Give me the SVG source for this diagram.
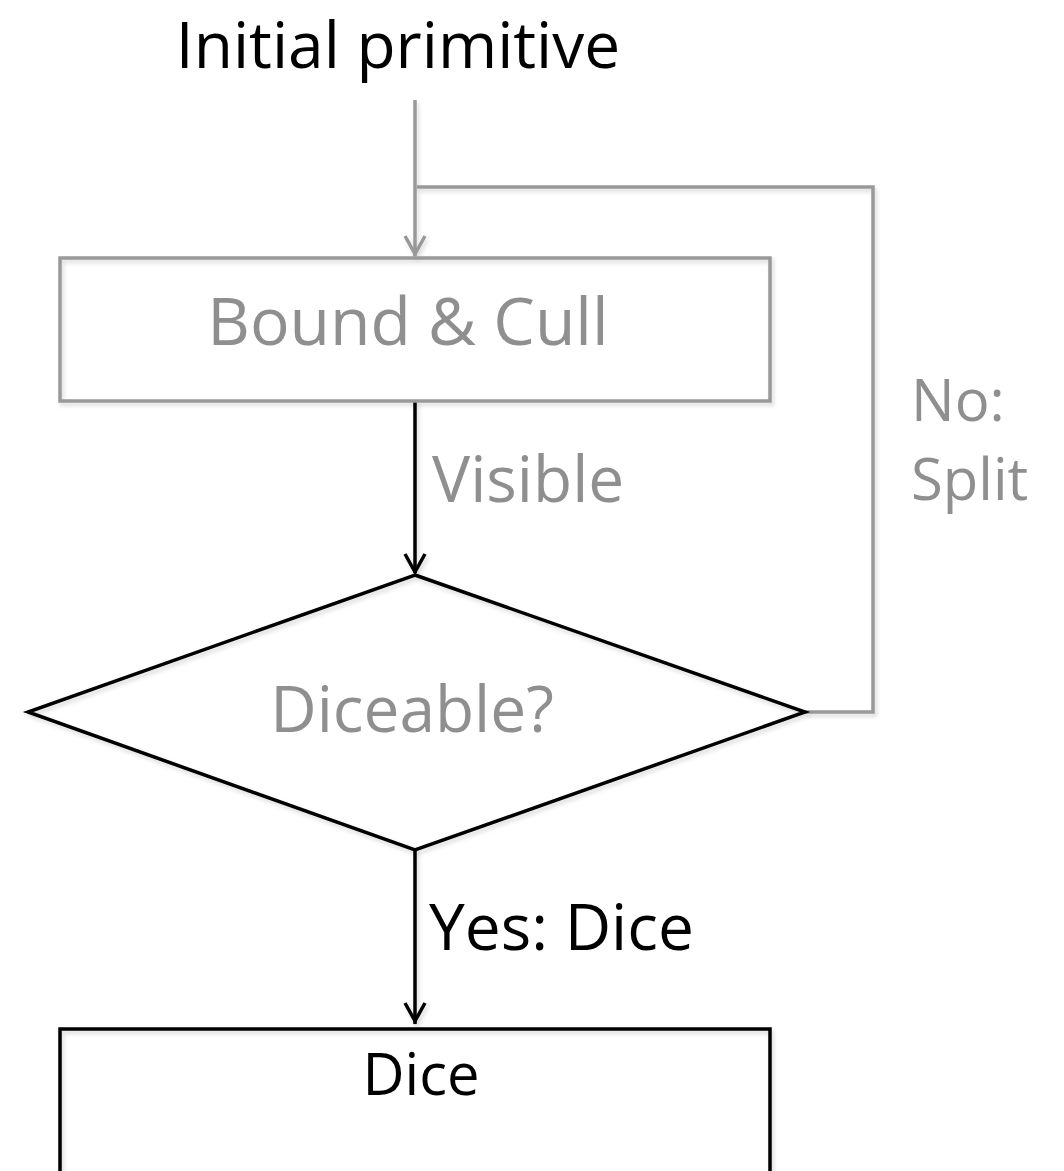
<svg xmlns="http://www.w3.org/2000/svg" width="1064" height="1171" viewBox="0 0 1064 1171">
<style>
  .t { font-family: "Open Sans", "Liberation Sans", sans-serif; }
  .gray { fill: #8f8f8f; }
  .blk { fill: #000; }
  .gl { stroke: #999; stroke-width: 3.5; fill: none; }
  .bl { stroke: #000; stroke-width: 3.5; fill: none; }
  .sh { filter: url(#shadow); }
</style>
<defs>
  <filter id="shadow" x="-10%" y="-10%" width="120%" height="120%">
    <feDropShadow dx="2" dy="3" stdDeviation="2" flood-color="#000" flood-opacity="0.15"/>
  </filter>
</defs>
<rect width="1064" height="1171" fill="#fff"/>
<g id="connectors" class="sh">
  <line class="gl" x1="415" y1="100" x2="415" y2="256"/>
  <polyline class="gl" points="405,236 415,254 425,236"/>
  <polyline class="gl" points="805,712 873,712 873,187 417,187"/>
  <line class="bl" x1="415" y1="401" x2="415" y2="573"/>
  <polyline class="bl" points="405,554 415,572 425,554"/>
  <line class="bl" x1="415" y1="850" x2="415" y2="1024"/>
  <polyline class="bl" points="405,1003 415,1021 425,1003"/>
</g>
<g id="labels">
  <text class="t gray" x="432" y="502" font-size="64">Visible</text>
  <text class="t blk" x="429" y="950" font-size="64">Yes: Dice</text>
  <text class="t gray" x="911" y="421" font-size="58">No:</text>
  <text class="t gray" x="911" y="500" font-size="58">Split</text>
</g>
<g id="initial">
  <text class="t blk" x="398" y="68" font-size="64" text-anchor="middle">Initial primitive</text>
</g>
<g id="bound">
  <rect class="gl sh" x="60" y="258" width="710" height="143"/>
  <text class="t gray" x="408" y="345" font-size="66" text-anchor="middle">Bound &amp; Cull</text>
</g>
<g id="diceable">
  <polygon class="bl sh" points="415,575 805,712 415,850 28,712"/>
  <text class="t gray" x="412" y="732" font-size="64" text-anchor="middle">Diceable?</text>
</g>
<g id="dice">
  <rect class="bl sh" x="60" y="1029" width="710" height="160"/>
  <text class="t blk" x="421" y="1095" font-size="58" text-anchor="middle">Dice</text>
</g>
</svg>
